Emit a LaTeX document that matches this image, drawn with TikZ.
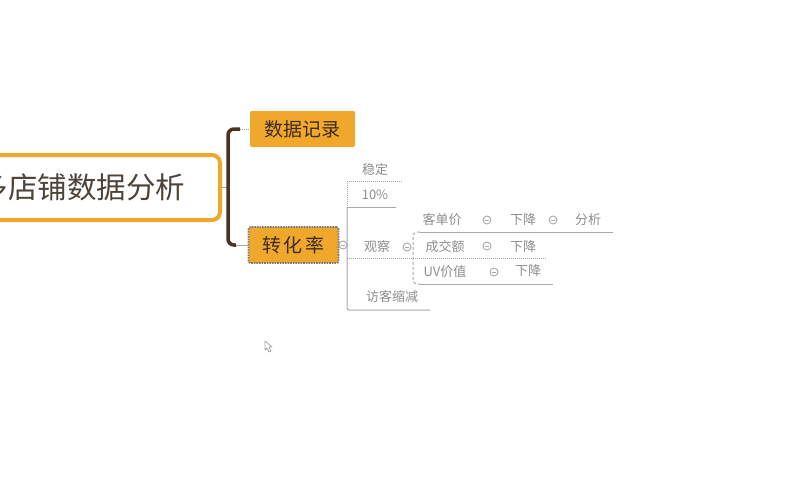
\documentclass[tikz,border=0pt]{standalone}
\usepackage{fontspec}
\setmainfont{Noto Sans CJK SC}
\newfontfamily\cjkwide[LetterSpace=15]{Noto Sans CJK SC}
\definecolor{topicorange}{HTML}{EFA82B}
\definecolor{branchbrown}{HTML}{4A3421}
\definecolor{linegray}{HTML}{A8A8A8}
\definecolor{textgray}{HTML}{8E8E8E}
\definecolor{titlebrown}{HTML}{3D2B1A}
\definecolor{roottext}{HTML}{4D4338}
\definecolor{selgray}{HTML}{7A7A7A}
\begin{document}
\begin{tikzpicture}[x=1pt,y=-1pt,
  roottopic/.style={draw=topicorange, line width=4pt, rounded corners=8pt, fill=white,
    minimum width=276pt, minimum height=65pt, inner sep=0pt, text=roottext,
    font=\fontsize{29.5}{29.5}\selectfont},
  maintopic/.style={fill=topicorange, rounded corners=2pt, inner sep=0pt, text=titlebrown,
    font=\fontsize{19}{19}\selectfont},
  selectedtopic/.style={draw=selgray, line width=1.6pt, densely dotted},
  label/.style={inner sep=0pt, text=textgray, font=\fontsize{13}{13}\selectfont},
  thinline/.style={draw=linegray, line width=1pt},
  bracket/.style={draw=branchbrown, line width=3.5pt},
  collapse/.style={circle, draw=linegray, line width=0.9pt, minimum size=8pt, inner sep=0pt, fill=white,
    path picture={\draw[linegray, line width=0.9pt]
      ([xshift=-2.2pt]path picture bounding box.center) -- ([xshift=2.2pt]path picture bounding box.center);}}
]
\useasboundingbox (0,0) rectangle (808,480);
\clip (0,0) rectangle (808,480);
\fill[white] (0,0) rectangle (808,480);

% central topic and its two main branches
\node[roottopic] (root) at (82,187.5) {多店铺数据分析};
\node[maintopic, minimum width=105pt, minimum height=36pt] (rec) at (302.5,129) {数据记录};
\node[maintopic, selectedtopic, minimum width=90pt, minimum height=36pt] (conv) at (293.5,245)
  {\cjkwide 转化率};

\coordinate (rootjoin) at (228,187.5);
\coordinate (recjoin) at (240,129);
\coordinate (convjoin) at (236,245);
\draw[thinline] (root.east) -- (rootjoin);
\draw[bracket, rounded corners=6pt] (recjoin) -- (228,129) -- (228,245) -- (convjoin);
\draw[thinline, densely dotted] (recjoin) -- (rec.west);
\draw[thinline] (convjoin) -- (conv.west);

% children of 转化率
\node[collapse] (cvc) at (343,245) {};
\coordinate (spine) at (347,245);
\draw[thinline] (cvc.east) -- (spine);

\node[label] (stable) at (375,170) {稳定};
\node[label] (pct) at (375,195) {10\%};
\node[label] (watch) at (377,247) {观察};
\node[collapse] (watchc) at (407,247) {};
\node[label] (visit) at (392,297) {访客缩减};

\coordinate (s1) at (347,181);
\coordinate (s2) at (347,207);
\coordinate (s3) at (347,258);
\coordinate (s4) at (347,310);
\draw[thinline, densely dotted] (s1) -- (402,181);
\draw[thinline, densely dotted] (s1) -- (s2);
\draw[thinline] (s2) -- (396,207);
\draw[thinline, rounded corners=2pt] (s2) -- (s4) -- (430,310);

% children of 观察
\node[label] (price) at (442,220) {客单价};
\node[collapse] (pricec) at (487,220) {};
\node[label] (pricedown) at (523,220) {下降};
\node[collapse] (pricedownc) at (553,220) {};
\node[label] (analyse) at (588,220) {分析};

\node[label] (deal) at (445,247) {成交额};
\node[collapse] (dealc) at (487,246) {};
\node[label] (dealdown) at (523,247) {下降};

\node[label] (uv) at (445,272) {UV价值};
\node[collapse] (uvc) at (494,272) {};
\node[label] (uvdown) at (528,271) {下降};

\coordinate (b1) at (413,232);
\coordinate (b3) at (413,284);
\draw[thinline, densely dotted] (s3) -- (547,258);
\draw[thinline] (420,232) -- (613,232);
\draw[thinline] (420,284) -- (553,284);
\draw[thinline, densely dashed, rounded corners=4pt] (420,232) -- (b1) -- (b3) -- (420,284);

% mouse pointer
\draw[linegray, fill=white, line width=0.8pt, line join=round]
  (265,341) -- (265,350) -- (267,348) -- (269,352) -- (271,351) -- (269,347) -- (272,347) -- cycle;
\end{tikzpicture}
\end{document}
